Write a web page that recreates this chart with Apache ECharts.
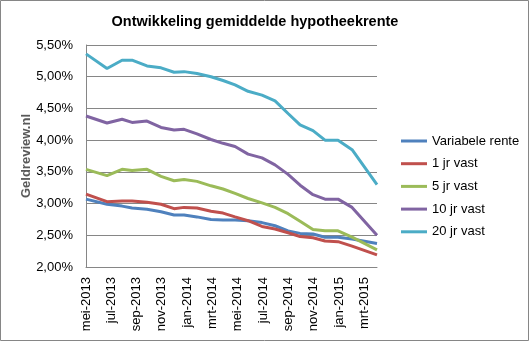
<!DOCTYPE html>
<html>
<head>
<meta charset="utf-8">
<script src="https://cdn.jsdelivr.net/npm/echarts@6/dist/echarts.min.js"></script>
<style>
html,body{margin:0;padding:0;background:#fff;}
#c{width:530px;height:342px;}
</style>
</head>
<body>
<div id="c"></div>
<script>
// Month offsets since mei-2013 for each observation
var monthOffsets = [0, 1.66, 2.85, 3.64, 4.82, 5.93, 6.96, 7.75, 8.77, 9.88, 10.83, 11.78, 12.81, 13.91, 14.94, 15.97, 16.92, 17.94, 18.89, 19.92, 21.03, 23.0];
var tickLabels = ["mei-2013","jul-2013","sep-2013","nov-2013","jan-2014","mrt-2014","mei-2014","jul-2014","sep-2014","nov-2014","jan-2015","mrt-2015"];
var seriesNames = ["Variabele rente","1 jr vast","5 jr vast","10 jr vast","20 jr vast"];
var variabele = [3.07,2.99,2.96,2.93,2.91,2.87,2.82,2.82,2.79,2.75,2.74,2.74,2.73,2.70,2.65,2.57,2.53,2.52,2.47,2.47,2.44,2.37];
var jr1 = [3.15,3.03,3.04,3.04,3.02,2.99,2.92,2.94,2.93,2.88,2.85,2.79,2.73,2.64,2.60,2.54,2.48,2.46,2.41,2.40,2.33,2.19];
var jr5 = [3.54,3.44,3.54,3.52,3.54,3.43,3.36,3.38,3.35,3.28,3.23,3.16,3.08,3.01,2.94,2.84,2.72,2.59,2.57,2.57,2.47,2.27];
var jr10 = [4.38,4.27,4.33,4.28,4.30,4.20,4.16,4.17,4.10,4.01,3.95,3.90,3.78,3.72,3.61,3.46,3.29,3.14,3.07,3.07,2.94,2.50];
var jr20 = [5.36,5.13,5.26,5.26,5.17,5.14,5.07,5.08,5.05,5.00,4.94,4.87,4.77,4.71,4.62,4.42,4.24,4.15,4.00,4.00,3.85,3.30];
var colors = ["#4F81BD","#C0504D","#9BBB59","#8064A2","#4BACC6"];

function pairs(vals){ return vals.map(function(v,i){ return [monthOffsets[i], v]; }); }
var allVals = [variabele, jr1, jr5, jr10, jr20];
var FONT = "'Liberation Sans', Arial, sans-serif";

var chart = echarts.init(document.getElementById('c'), null, {renderer:'canvas'});
chart.setOption({
  animation:false,
  color: colors,
  textStyle:{fontFamily:FONT},
  graphic:[{type:'rect', shape:{x:0.5,y:0.5,width:528,height:340}, style:{fill:'none', stroke:'#868686', lineWidth:1}, silent:true}],
  title:{
    text:'Ontwikkeling gemiddelde hypotheekrente',
    left:250, top:9, textAlign:'center',
    textStyle:{fontFamily:FONT, fontSize:14.5, fontWeight:'bold', color:'#000'}
  },
  legend:{
    orient:'vertical', left:396, top:128,
    icon:'rect', itemWidth:26, itemHeight:3, itemGap:6.7,
    textStyle:{fontFamily:FONT, fontSize:13, color:'#000', lineHeight:16},
    data: seriesNames
  },
  grid:{left:86, top:45, right:153, bottom:75, containLabel:false},
  xAxis:{
    type:'value', min:0, max:23, interval:2,
    axisLine:{show:true, lineStyle:{color:'#868686', width:1}},
    axisTick:{show:false},
    splitLine:{show:false},
    axisLabel:{
      rotate:90, margin:10, fontFamily:FONT, fontSize:13, color:'#000',
      showMaxLabel:false,
      formatter:function(v){ var i = v/2; return (Number.isInteger(i) && tickLabels[i]) ? tickLabels[i] : ''; }
    }
  },
  yAxis:{
    type:'value', min:2, max:5.5, interval:0.5,
    name:'Geldreview.nl', nameLocation:'middle', nameGap:53, nameRotate:90,
    nameMoveOverlap:false,
    nameTextStyle:{fontFamily:FONT, fontSize:13, fontWeight:'bold', color:'#595959'},
    axisLine:{show:true, lineStyle:{color:'#868686', width:1}},
    axisTick:{show:false},
    splitLine:{show:true, lineStyle:{color:'#868686', width:1}},
    axisLabel:{margin:13, fontFamily:FONT, fontSize:13, color:'#000',
      formatter:function(v){ return v.toFixed(2).replace('.', ',') + '%'; }}
  },
  series: seriesNames.map(function(n,k){
    return {name:n, type:'line', data:pairs(allVals[k]), showSymbol:false, symbol:'none',
      lineStyle:{width:3, color:colors[k]}, itemStyle:{color:colors[k]}};
  })
});
</script>
</body>
</html>
